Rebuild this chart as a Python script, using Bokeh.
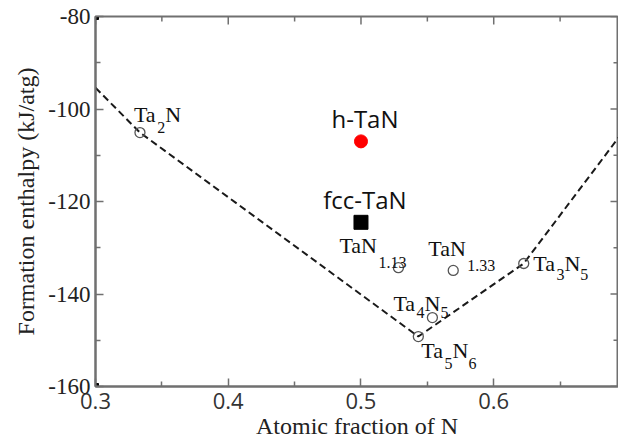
import math
from bokeh.plotting import figure
from bokeh.models import ColumnDataSource, FixedTicker, Range1d, PrintfTickFormatter
from bokeh.embed import file_html
from bokeh.resources import INLINE
from bokeh.core.properties import value

# ---------------- data ----------------
hull_x = [0.300, 0.3335, 0.5432, 0.6226, 0.694]
hull_y = [-95.4, -105.1, -149.2, -133.4, -106.2]

compounds = ["Ta2N", "TaN1.13", "TaN1.33", "Ta4N5", "Ta5N6", "Ta3N5"]
comp_x = [0.3335, 0.5282, 0.5695, 0.5538, 0.5432, 0.6226]
comp_y = [-105.1, -134.3, -134.9, -145.1, -149.2, -133.4]
# label pieces: (text, is_subscript)
comp_parts = [
    [("Ta", 0), ("2", 1), ("N", 0)],
    [("TaN", 0), ("1.13", 1)],
    [("TaN", 0), ("1.33", 1)],
    [("Ta", 0), ("4", 1), ("N", 0), ("5", 1)],
    [("Ta", 0), ("5", 1), ("N", 0), ("6", 1)],
    [("Ta", 0), ("3", 1), ("N", 0), ("5", 1)],
]

phase_names = ["h-TaN", "fcc-TaN"]
phase_x = [0.5, 0.5]
phase_y = [-107.0, -124.5]

x_ticks = [0.3, 0.4, 0.5, 0.6, 0.7]
x_minor = [0.35, 0.45, 0.55, 0.65]
y_ticks = [-160, -140, -120, -100, -80]
y_minor = [-150, -130, -110, -90]
x_lim = (0.3, 0.694)
y_lim = (-160, -80)

x_title = "Atomic fraction of N"
y_title = "Formation enthalpy (kJ/atg)"

# ---------------- style ----------------
SERIF = "Liberation Serif"
SANS = "Open Sans"
AX_COL = "#707070"
MAIN_PX = 22
SUB_PX = 16
PHASE_PX = 24
SERIF_MID = 0.3375   # (ascent - descent) / 2, in em
SANS_MID = 0.388
MAJ_LEN, MIN_LEN = 8, 5
# label placement: (px from point to left edge, px from point to baseline, subscript drop)
label_style = {
    "Ta2N": (-6, -11, 11),
    "TaN1.13": (-59, -15, 15),
    "TaN1.33": (-25, -14, 14),
    "Ta4N5": (-39, -7, 7),
    "Ta5N6": (3, 21, 11),
    "Ta3N5": (9.5, 7, 9),
}
PHASE_DX, PHASE_DY = 4, -14   # centre / baseline offsets of the phase labels
# Times/Liberation Serif advance widths (em)
EM = {"T": 0.611, "a": 0.444, "N": 0.722, ".": 0.25}
for d in "0123456789":
    EM[d] = 0.5


def text_w(s, px):
    return sum(EM.get(c, 0.5) for c in s) * px


p = figure(
    width=618, height=446,
    x_range=Range1d(*x_lim), y_range=Range1d(*y_lim),
    output_backend="svg", toolbar_location=None,
    min_border_left=95, min_border_right=0, min_border_top=16, min_border_bottom=60,
    x_axis_label=x_title, y_axis_label=y_title,
)
p.xgrid.visible = False
p.ygrid.visible = False
p.outline_line_color = AX_COL
p.outline_line_width = 2
p.background_fill_color = "white"
p.border_fill_color = "white"

xa = p.below[0]
ya = p.left[0]
xa.ticker = FixedTicker(ticks=x_ticks, minor_ticks=x_minor)
ya.ticker = FixedTicker(ticks=y_ticks, minor_ticks=y_minor)
ya.formatter = PrintfTickFormatter(format="%d")

for ax in [xa, ya]:
    ax.axis_line_color = AX_COL
    ax.axis_line_width = 2
    ax.major_tick_line_color = AX_COL
    ax.minor_tick_line_color = AX_COL
    ax.major_tick_line_width = 1.5
    ax.minor_tick_line_width = 1.5
    ax.major_tick_in = MAJ_LEN
    ax.major_tick_out = 0
    ax.minor_tick_in = MIN_LEN
    ax.minor_tick_out = 0

xa.major_label_text_font = SANS
xa.major_label_text_font_size = "22px"
xa.major_label_text_color = "#333333"
xa.major_label_standoff = 6
xa.axis_label_text_font = SERIF
xa.axis_label_text_font_size = "24px"
xa.axis_label_text_font_style = "normal"
xa.axis_label_text_color = "#222222"
xa.axis_label_standoff = 1

ya.major_label_text_font = SERIF
ya.major_label_text_font_size = "23px"
ya.major_label_text_color = "#222222"
ya.major_label_standoff = 5
ya.axis_label_text_font = SERIF
ya.axis_label_text_font_size = "24px"
ya.axis_label_text_font_style = "normal"
ya.axis_label_text_color = "#222222"
ya.axis_label_standoff = 6

# inward ticks on the top and right frame edges (screen-length rays)
x_all = [t for t in x_ticks + x_minor if x_lim[0] <= t <= x_lim[1]]
x_len = [MAJ_LEN if t in x_ticks else MIN_LEN for t in x_all]
p.ray(x=x_all, y=[y_lim[1]] * len(x_all), length=x_len, length_units="screen",
      angle=-math.pi / 2, line_color=AX_COL, line_width=1.5)
y_all = y_ticks + y_minor
y_len = [MAJ_LEN if t in y_ticks else MIN_LEN for t in y_all]
p.ray(x=[x_lim[1]] * len(y_all), y=y_all, length=y_len, length_units="screen",
      angle=math.pi, line_color=AX_COL, line_width=1.5)

# convex hull (dashed)
p.line(hull_x, hull_y, line_color="#1a1a1a", line_width=2, line_dash="7 4")

# computed compounds (open circles)
p.scatter(comp_x, comp_y, marker="circle", size=10, fill_color=None,
          line_color="#555555", line_width=1.3)

# corner marks of the original frame
p.scatter([x_lim[0], x_lim[0]], [y_lim[1], y_lim[0]], marker="square", size=6,
          fill_color="black", line_color="black")

# h-TaN and fcc-TaN
p.scatter([phase_x[0]], [phase_y[0]], marker="circle", size=13,
          fill_color="#ff0000", line_color="#ff0000")
p.scatter([phase_x[1]], [phase_y[1]], marker="square", size=14,
          fill_color="black", line_color="black")

# compound labels with subscripts (positioned by the middle of the text box)
main = dict(x=[], y=[], xo=[], yo=[], text=[])
sub = dict(x=[], y=[], xo=[], yo=[], text=[])
for name, cx, cy, parts in zip(compounds, comp_x, comp_y, comp_parts):
    dx, dy, drop = label_style[name]
    cur = dx
    for t, is_sub in parts:
        tgt = sub if is_sub else main
        size = SUB_PX if is_sub else MAIN_PX
        base = dy + (drop if is_sub else 0)
        tgt["x"].append(cx)
        tgt["y"].append(cy)
        tgt["xo"].append(cur)
        tgt["yo"].append(base - SERIF_MID * size)
        tgt["text"].append(t)
        cur += text_w(t, size)

p.text(x="x", y="y", text="text", x_offset="xo", y_offset="yo",
       source=ColumnDataSource(main), text_font=value(SERIF),
       text_font_size=f"{MAIN_PX}px", text_baseline="middle",
       text_align="left", text_color="#111111")
p.text(x="x", y="y", text="text", x_offset="xo", y_offset="yo",
       source=ColumnDataSource(sub), text_font=value(SERIF),
       text_font_size=f"{SUB_PX}px", text_baseline="middle",
       text_align="left", text_color="#111111")

# phase labels
p.text(x=phase_x, y=phase_y, text=phase_names, x_offset=PHASE_DX,
       y_offset=PHASE_DY - SANS_MID * PHASE_PX,
       text_font=value(SANS), text_font_size=f"{PHASE_PX}px", text_baseline="middle",
       text_align="center", text_color="#111111")

open("out.html", "w").write(file_html(p, INLINE))
